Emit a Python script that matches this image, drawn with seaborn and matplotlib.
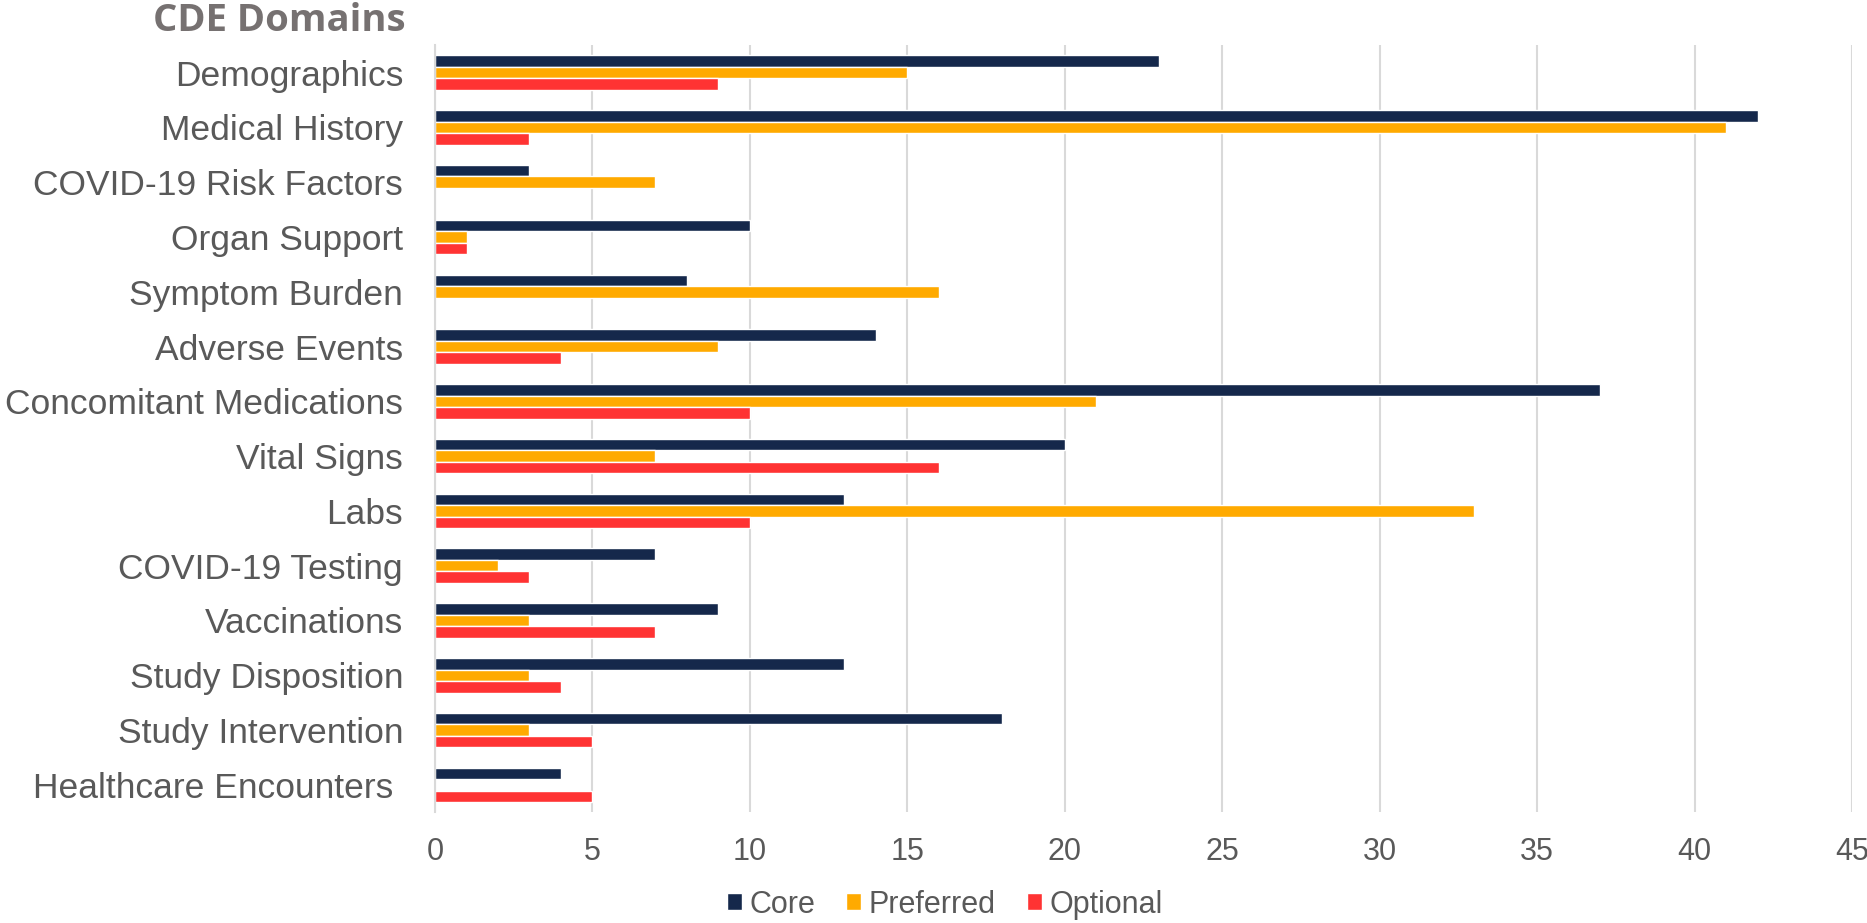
import matplotlib
matplotlib.use("Agg")
import pandas as pd
import matplotlib.pyplot as plt
import seaborn as sns

# ---- data ----
domains = ["Demographics", "Medical History", "COVID-19 Risk Factors", "Organ Support",
           "Symptom Burden", "Adverse Events", "Concomitant Medications", "Vital Signs",
           "Labs", "COVID-19 Testing", "Vaccinations", "Study Disposition",
           "Study Intervention", "Healthcare Encounters "]
core = [23, 42, 3, 10, 8, 14, 37, 20, 13, 7, 9, 13, 18, 4]
preferred = [15, 41, 7, 1, 16, 9, 21, 7, 33, 2, 3, 3, 3, 0]
optional = [9, 3, 0, 1, 0, 4, 10, 16, 10, 3, 7, 4, 5, 5]
series = ["Core", "Preferred", "Optional"]
colors = {"Core": "#15284B", "Preferred": "#FFAA00", "Optional": "#FF3333"}

df = pd.DataFrame({"Domain": domains, "Core": core,
                   "Preferred": preferred, "Optional": optional})
df = df.melt(id_vars="Domain", value_vars=series, var_name="Type", value_name="Count")

sns.set_style("white")
plt.rcParams["font.family"] = ["Liberation Sans", "DejaVu Sans"]

fig = plt.figure(figsize=(18.67, 9.23), dpi=100)
ax = fig.add_axes([0.233, 0.12, 0.759, 0.831])

sns.barplot(data=df, y="Domain", x="Count", hue="Type", hue_order=series,
            order=domains, palette=colors, orient="h", width=0.63,
            saturation=1, ax=ax)

ax.set_xlim(0, 45)
ax.set_xticks(range(0, 46, 5))
ax.set_ylim(len(domains) - 0.5, -0.5)
ax.set_xlabel("")
ax.set_ylabel("")
ax.xaxis.grid(True, color="#D9D9D9", linewidth=1.5)
ax.yaxis.grid(False)
ax.set_axisbelow(True)
for side in ["top", "right", "bottom"]:
    ax.spines[side].set_visible(False)
ax.spines["left"].set_color("#D9D9D9")
ax.spines["left"].set_linewidth(1.5)

ax.tick_params(axis="y", length=0, pad=23, labelsize=25.5, labelcolor="#595959")
ax.tick_params(axis="x", length=0, pad=18, labelsize=22, labelcolor="#595959")

fig.text(0.2175, 0.9664, "CDE Domains", ha="right", va="baseline", fontsize=27.5,
         fontweight="bold", family=["Open Sans", "DejaVu Sans"], color="#767171")

handles, labels = ax.get_legend_handles_labels()
ax.get_legend().remove()
fig.legend(handles, labels, loc="center", bbox_to_anchor=(0.506, 0.02), ncol=3,
           frameon=False, fontsize=22, handlelength=0.5, handleheight=0.5,
           handletextpad=0.25, columnspacing=1.0, labelcolor="#595959")

fig.savefig("out.png", dpi=100)
